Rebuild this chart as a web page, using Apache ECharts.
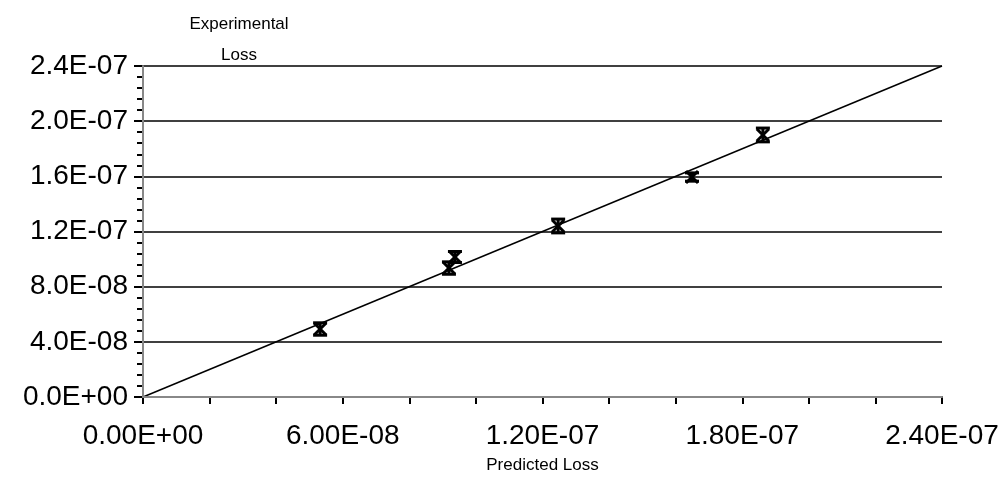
<!DOCTYPE html>
<html>
<head>
<meta charset="utf-8">
<script src="https://cdn.jsdelivr.net/npm/echarts@6/dist/echarts.min.js"></script>
<style>
  html, body { margin: 0; padding: 0; background: #fff; }
  #chart { width: 1002px; height: 482px; }
</style>
</head>
<body>
<div id="chart"></div>
<script>
// predicted vs experimental loss
const predicted = [5.32e-8, 9.37e-8, 9.19e-8, 1.247e-7, 1.649e-7, 1.862e-7]
const experimental = [4.93e-8, 1.015e-7, 9.35e-8, 1.24e-7, 1.595e-7, 1.90e-7]
const errorBar = [4.5e-9, 4e-9, 4.5e-9, 5e-9, 3e-9, 5e-9]
const parityLine = [[0, 0], [2.4e-7, 2.4e-7]]

const font = 'Arial, "Liberation Sans", sans-serif'

// 2.4E-07 style labels
const sci = (v, digits) => {
  if (v === 0) return (0).toFixed(digits) + 'E+00'
  const [m, e] = v.toExponential(digits).split('e')
  const n = parseInt(e, 10)
  return m + 'E' + (n < 0 ? '-' : '+') + String(Math.abs(n)).padStart(2, '0')
}

const points = predicted.map((x, i) => [x, experimental[i], errorBar[i]])

const chart = echarts.init(document.getElementById('chart'))

chart.setOption({
  animation: false,
  title: {
    text: 'Experimental\nLoss',
    left: 234,
    top: 4,
    textAlign: 'center',
    textStyle: { fontFamily: font, fontSize: 17, fontWeight: 'normal', color: '#000', lineHeight: 31 }
  },
  grid: { left: 143, right: 60, top: 66, bottom: 85, show: false },
  xAxis: [
    {
      type: 'value',
      min: 0,
      max: 2.4e-7,
      interval: 2e-8,
      name: 'Predicted Loss',
      nameLocation: 'middle',
      nameGap: 60,
      nameTextStyle: { fontFamily: font, fontSize: 17, color: '#000' },
      axisLine: { lineStyle: { color: '#000', width: 2 } },
      axisTick: { show: true, length: 7, lineStyle: { color: '#000', width: 2 } },
      axisLabel: {
        margin: 25,
        fontFamily: font,
        fontSize: 28,
        color: '#000',
        formatter: (v) => {
          const k = Math.round(v / 2e-8)
          return k % 3 === 0 ? sci(v, 2) : ''
        }
      },
      splitLine: { show: false }
    },
    {
      type: 'value',
      position: 'top',
      min: 0,
      max: 2.4e-7,
      z: 5,
      axisLine: { show: true, lineStyle: { color: '#888', width: 2 } },
      axisTick: { show: false },
      axisLabel: { show: false },
      splitLine: { show: false }
    }
  ],
  yAxis: [
    {
      type: 'value',
      min: 0,
      max: 2.4e-7,
      interval: 4e-8,
      axisLine: { show: true, lineStyle: { color: '#000', width: 2 } },
      axisTick: { show: true, length: 9, lineStyle: { color: '#000', width: 2 } },
      minorTick: { show: true, splitNumber: 5, length: 6, lineStyle: { color: '#000', width: 2 } },
      axisLabel: {
        margin: 15,
        fontFamily: font,
        fontSize: 28,
        color: '#000',
        formatter: (v) => sci(v, 1)
      },
      splitLine: { show: true, lineStyle: { color: '#000', width: 1.5 } }
    },
    {
      type: 'value',
      position: 'right',
      min: 0,
      max: 2.4e-7,
      z: 5,
      axisLine: { show: true, lineStyle: { color: '#888', width: 2 } },
      axisTick: { show: false },
      axisLabel: { show: false },
      splitLine: { show: false }
    }
  ],
  series: [
    {
      type: 'line',
      data: parityLine,
      symbol: 'none',
      lineStyle: { color: '#000', width: 1.5 },
      z: 3
    },
    {
      type: 'custom',
      data: points,
      z: 4,
      renderItem: (params, api) => {
        const x = api.value(0)
        const y = api.value(1)
        const e = api.value(2)
        const c = api.coord([x, y])
        const hi = api.coord([x, y + e])
        const lo = api.coord([x, y - e])
        const cap = 7
        const m = 6
        const style = { stroke: '#000', lineWidth: 3 }
        return {
          type: 'group',
          children: [
            { type: 'line', shape: { x1: c[0], y1: hi[1], x2: c[0], y2: lo[1] }, style },
            { type: 'line', shape: { x1: c[0] - cap, y1: hi[1], x2: c[0] + cap, y2: hi[1] }, style },
            { type: 'line', shape: { x1: c[0] - cap, y1: lo[1], x2: c[0] + cap, y2: lo[1] }, style },
            { type: 'line', shape: { x1: c[0] - m, y1: c[1] - m, x2: c[0] + m, y2: c[1] + m }, style },
            { type: 'line', shape: { x1: c[0] - m, y1: c[1] + m, x2: c[0] + m, y2: c[1] - m }, style }
          ]
        }
      }
    }
  ]
})
</script>
</body>
</html>
